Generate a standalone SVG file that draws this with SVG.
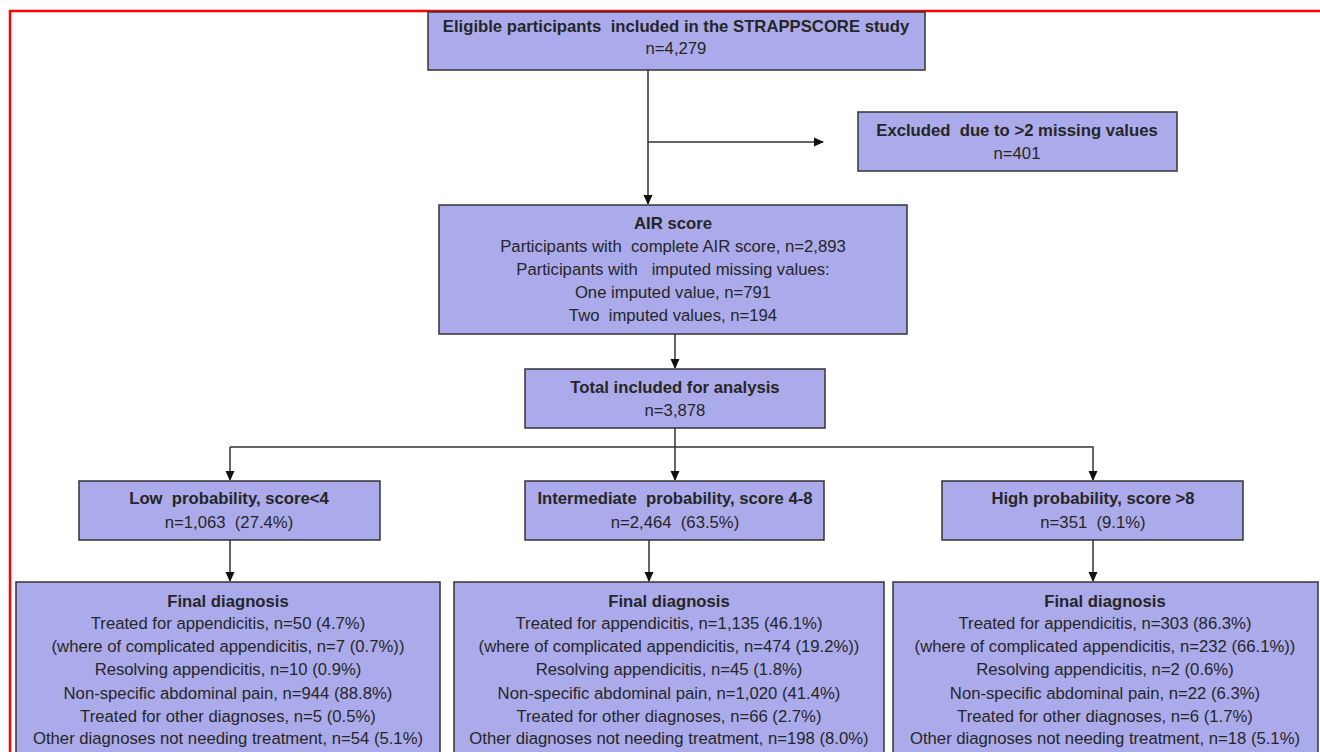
<svg xmlns="http://www.w3.org/2000/svg" width="1320" height="752" viewBox="0 0 1320 752">
<style>
.box{fill:#ababeb;stroke:#333;stroke-width:1.5}
.t{font-family:"Liberation Sans",Arial,sans-serif;font-size:16.7px;fill:#262626;text-anchor:middle}
.b{font-weight:bold}
.c{fill:none;stroke:#333;stroke-width:1.5}
</style>
<defs>
<marker id="ah" markerWidth="10" markerHeight="10" refX="9" refY="5" orient="auto" markerUnits="userSpaceOnUse">
<path d="M0,0.5 L10,5 L0,9.5 Z" fill="#111"/>
</marker>
</defs>
<rect width="1320" height="752" fill="#fff"/>
<path d="M10,752 V11 H1320" fill="none" stroke="#f00" stroke-width="2.5"/>
<g id="connectors">
<path class="c" d="M648,70 V204" marker-end="url(#ah)"/>
<path class="c" d="M648,142 H823" marker-end="url(#ah)"/>
<path class="c" d="M675,334 V368" marker-end="url(#ah)"/>
<path class="c" d="M675,428 V480" marker-end="url(#ah)"/>
<path class="c" d="M230,447 H1093 V480" marker-end="url(#ah)"/>
<path class="c" d="M230,447 V480" marker-end="url(#ah)"/>
<path class="c" d="M230,540 V581" marker-end="url(#ah)"/>
<path class="c" d="M649,540 V581" marker-end="url(#ah)"/>
<path class="c" d="M1093,540 V581" marker-end="url(#ah)"/>
</g>
<g id="eligible">
<rect class="box" x="428" y="12" width="497" height="58"/>
<text class="t b" x="676" y="32" xml:space="preserve">Eligible participants  included in the STRAPPSCORE study</text>
<text class="t" x="676" y="54">n=4,279</text>
</g>
<g id="excluded">
<rect class="box" x="858" y="112" width="319" height="59"/>
<text class="t b" x="1017" y="136" xml:space="preserve">Excluded  due to &gt;2 missing values</text>
<text class="t" x="1017" y="159">n=401</text>
</g>
<g id="air">
<rect class="box" x="439" y="205" width="468" height="129"/>
<text class="t b" x="673" y="229">AIR score</text>
<text class="t" x="673" y="252" xml:space="preserve">Participants with  complete AIR score, n=2,893</text>
<text class="t" x="673" y="275" xml:space="preserve">Participants with   imputed missing values:</text>
<text class="t" x="673" y="298">One imputed value, n=791</text>
<text class="t" x="673" y="321" xml:space="preserve">Two  imputed values, n=194</text>
</g>
<g id="total">
<rect class="box" x="525" y="369" width="300" height="59"/>
<text class="t b" x="675" y="393">Total included for analysis</text>
<text class="t" x="675" y="416">n=3,878</text>
</g>
<g id="low">
<rect class="box" x="79" y="481" width="301" height="59"/>
<text class="t b" x="229" y="504" xml:space="preserve">Low  probability, score&lt;4</text>
<text class="t" x="229" y="528" xml:space="preserve">n=1,063  (27.4%)</text>
</g>
<g id="intermediate">
<rect class="box" x="525" y="481" width="299" height="59"/>
<text class="t b" x="675" y="504" xml:space="preserve">Intermediate  probability, score 4-8</text>
<text class="t" x="675" y="528" xml:space="preserve">n=2,464  (63.5%)</text>
</g>
<g id="high">
<rect class="box" x="942" y="481" width="301" height="59"/>
<text class="t b" x="1093" y="504">High probability, score &gt;8</text>
<text class="t" x="1093" y="528" xml:space="preserve">n=351  (9.1%)</text>
</g>
<g id="final-low">
<rect class="box" x="16" y="582" width="424" height="190"/>
<text class="t b" x="228" y="607">Final diagnosis</text>
<text class="t" x="228" y="629">Treated for appendicitis, n=50 (4.7%)</text>
<text class="t" x="228" y="652">(where of complicated appendicitis, n=7 (0.7%))</text>
<text class="t" x="228" y="675">Resolving appendicitis, n=10 (0.9%)</text>
<text class="t" x="228" y="699">Non-specific abdominal pain, n=944 (88.8%)</text>
<text class="t" x="228" y="722">Treated for other diagnoses, n=5 (0.5%)</text>
<text class="t" x="228" y="744">Other diagnoses not needing treatment, n=54 (5.1%)</text>
</g>
<g id="final-intermediate">
<rect class="box" x="454" y="582" width="430" height="190"/>
<text class="t b" x="669" y="607">Final diagnosis</text>
<text class="t" x="669" y="629">Treated for appendicitis, n=1,135 (46.1%)</text>
<text class="t" x="669" y="652">(where of complicated appendicitis, n=474 (19.2%))</text>
<text class="t" x="669" y="675">Resolving appendicitis, n=45 (1.8%)</text>
<text class="t" x="669" y="699">Non-specific abdominal pain, n=1,020 (41.4%)</text>
<text class="t" x="669" y="722">Treated for other diagnoses, n=66 (2.7%)</text>
<text class="t" x="669" y="744">Other diagnoses not needing treatment, n=198 (8.0%)</text>
</g>
<g id="final-high">
<rect class="box" x="893" y="582" width="425" height="190"/>
<text class="t b" x="1105" y="607">Final diagnosis</text>
<text class="t" x="1105" y="629">Treated for appendicitis, n=303 (86.3%)</text>
<text class="t" x="1105" y="652">(where of complicated appendicitis, n=232 (66.1%))</text>
<text class="t" x="1105" y="675">Resolving appendicitis, n=2 (0.6%)</text>
<text class="t" x="1105" y="699">Non-specific abdominal pain, n=22 (6.3%)</text>
<text class="t" x="1105" y="722">Treated for other diagnoses, n=6 (1.7%)</text>
<text class="t" x="1105" y="744">Other diagnoses not needing treatment, n=18 (5.1%)</text>
</g>
</svg>
